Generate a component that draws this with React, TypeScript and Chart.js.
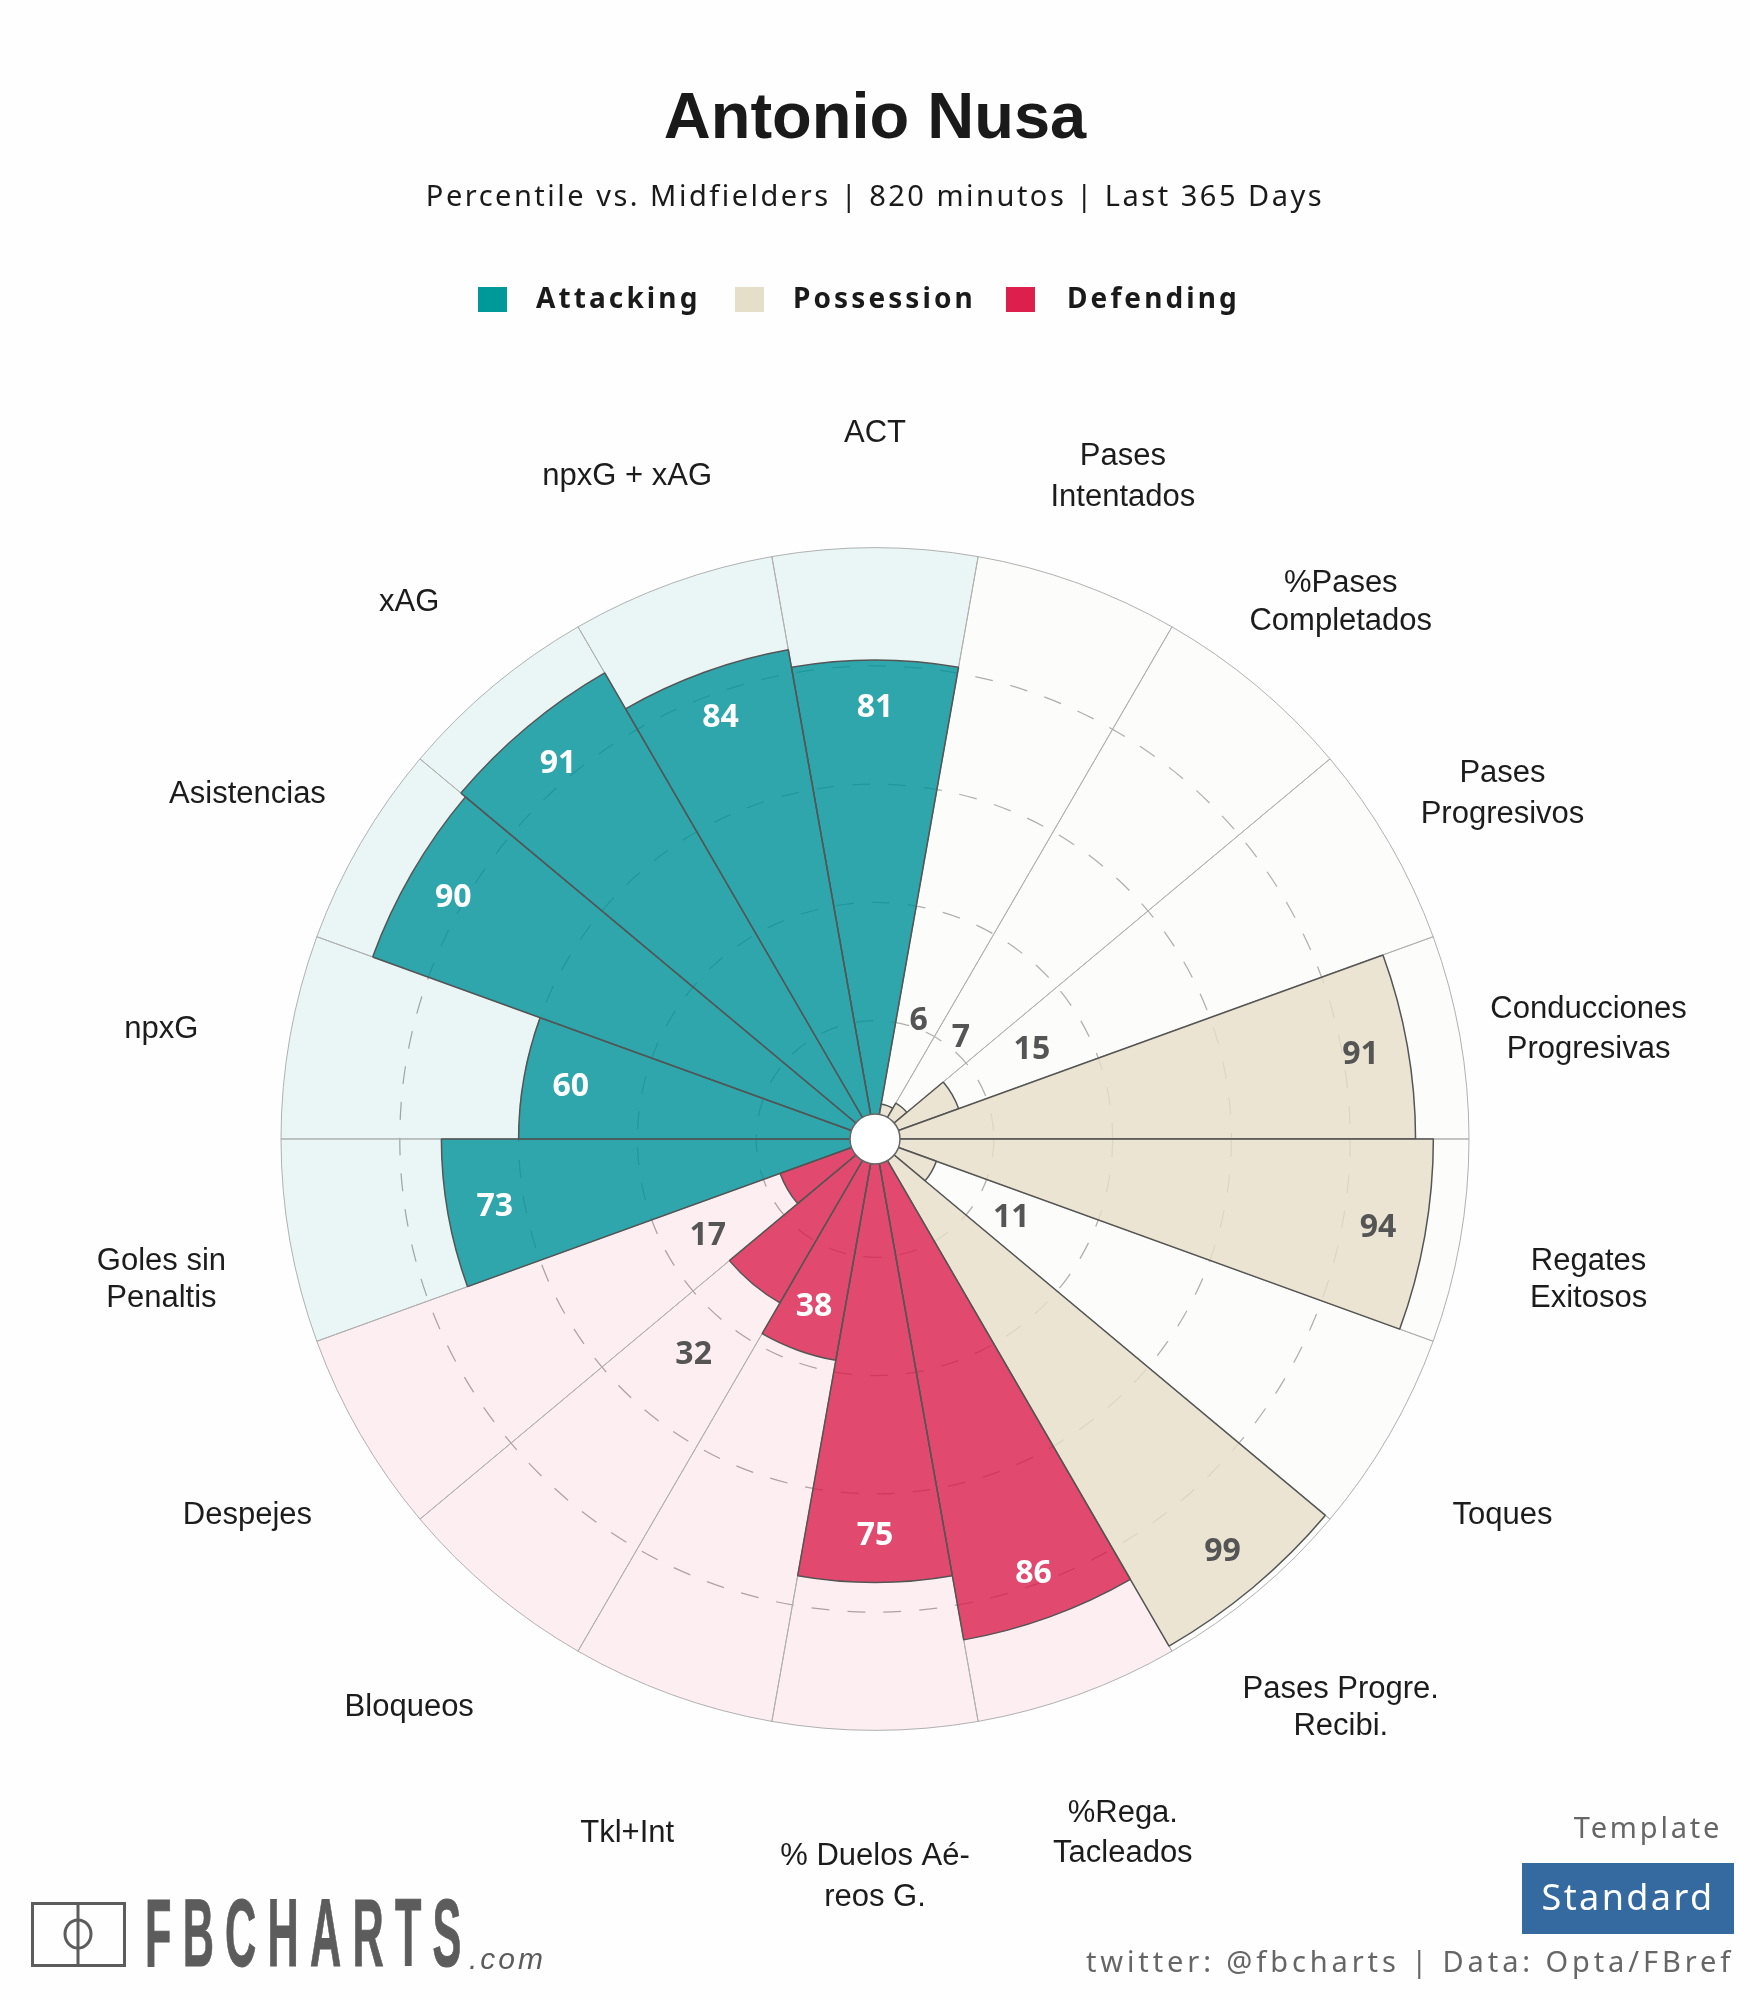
import React, { useEffect, useRef } from "react";
import { Chart, registerables } from "chart.js";

Chart.register(...registerables);

const categories: string[][] = [
  ["ACT"],
  ["Pases", "Intentados"],
  ["%Pases", "Completados"],
  ["Pases", "Progresivos"],
  ["Conducciones", "Progresivas"],
  ["Regates", "Exitosos"],
  ["Toques"],
  ["Pases Progre.", "Recibi."],
  ["%Rega.", "Tacleados"],
  ["% Duelos Aé-", "reos G."],
  ["Tkl+Int"],
  ["Bloqueos"],
  ["Despejes"],
  ["Goles sin", "Penaltis"],
  ["npxG"],
  ["Asistencias"],
  ["xAG"],
  ["npxG + xAG"],
];
const percentiles = [81, 6, 7, 15, 91, 94, 11, 99, 86, 75, 38, 32, 17, 73, 60, 90, 91, 84];
const ceilings = [100, 100, 100, 100, 100, 100, 100, 100, 100, 100, 100, 100, 100, 100, 100, 100, 100, 100];
const groups = ["A", "P", "P", "P", "P", "P", "P", "P", "D", "D", "D", "D", "D", "A", "A", "A", "A", "A"];
const lineGaps = [0, 41, 38, 41, 40, 37, 0, 37, 40, 41, 0, 0, 0, 37, 0, 0, 0, 0];

const barColor: Record<string, string> = {
  A: "rgba(0,146,154,0.8)",
  P: "rgba(231,222,200,0.8)",
  D: "rgba(218,32,76,0.8)",
};
const shadeColor: Record<string, string> = {
  A: "rgba(0,153,153,0.08)",
  P: "rgba(230,225,205,0.08)",
  D: "rgba(240,40,90,0.075)",
};

const legendItems = [
  { label: "Attacking", color: "#009999", swatchX: 478, textX: 536 },
  { label: "Possession", color: "#E5DEC8", swatchX: 735, textX: 793 },
  { label: "Defending", color: "#DC1F4C", swatchX: 1006, textX: 1067 },
];

const uiFont = "'Noto Sans', sans-serif";
const valueFont = "'Open Sans', sans-serif";
const armFont = "'Liberation Sans', Arial, sans-serif";
const verticalSquash = 0.9956;

const overlayPlugin = {
  id: "overlay",
  beforeDraw(chart: any) {
    const ctx = chart.ctx;
    const cy = chart.scales.r.yCenter;
    ctx.save();
    ctx.translate(0, cy);
    ctx.scale(1, verticalSquash);
    ctx.translate(0, -cy);
  },
  afterDatasetsDraw(chart: any) {
    const ctx = chart.ctx;
    const scale = chart.scales.r;
    const meta = chart.getDatasetMeta(0);
    const cx = scale.xCenter;
    const cy = scale.yCenter;

    ctx.save();
    ctx.beginPath();
    ctx.arc(cx, cy, 25, 0, Math.PI * 2);
    ctx.fillStyle = "#ffffff";
    ctx.fill();
    ctx.lineWidth = 1.5;
    ctx.strokeStyle = "#666666";
    ctx.stroke();

    ctx.textAlign = "center";
    ctx.textBaseline = "middle";
    percentiles.forEach((v, i) => {
      const el = meta.data[i];
      const mid = (el.startAngle + el.endAngle) / 2;
      const outside = v < 35;
      const r = scale.getDistanceFromCenterForValue(outside ? v + 15.5 : v - 8);
      ctx.font = `700 32px ${valueFont}`;
      ctx.fillStyle = outside || groups[i] === "P" ? "#555555" : "#ffffff";
      ctx.fillText(String(v), cx + r * Math.cos(mid), cy + 1 + r * Math.sin(mid));
    });
    ctx.restore();
  },
  afterDraw(chart: any) {
    const ctx = chart.ctx;
    ctx.restore();

    const scale = chart.scales.r;
    const meta = chart.getDatasetMeta(0);
    const cx = scale.xCenter;
    const cy = scale.yCenter;
    const labelR = scale.getDistanceFromCenterForValue(121.5);

    ctx.save();
    ctx.textAlign = "center";
    ctx.textBaseline = "middle";
    ctx.font = `31px ${armFont}`;
    ctx.fillStyle = "#1c1c1c";
    categories.forEach((lines, i) => {
      const el = meta.data[i];
      const mid = (el.startAngle + el.endAngle) / 2;
      const x = cx + labelR * 1.004 * Math.cos(mid);
      const y = cy + 16 + labelR * Math.sin(mid);
      lines.forEach((line, k) => {
        ctx.fillText(line, x, y + (k - (lines.length - 1) / 2) * lineGaps[i]);
      });
    });
    ctx.restore();
  },
};

function Label(props: { x: number; y: number; size: number; color?: string; weight?: number; spacing?: number; font?: string; align?: string; children: React.ReactNode }) {
  const { x, y, size, color = "#1a1a1a", weight = 400, spacing = 0, font = uiFont, align = "center", children } = props;
  const tx = align === "center" ? "-50%" : "0";
  return (
    <div
      style={{
        position: "absolute",
        left: x,
        top: y,
        transform: `translate(${tx},-50%)`,
        fontFamily: font,
        fontSize: size,
        fontWeight: weight,
        color,
        letterSpacing: spacing,
        whiteSpace: "nowrap",
        lineHeight: 1,
      }}
    >
      {children}
    </div>
  );
}

export default function App() {
  const ref = useRef<HTMLCanvasElement | null>(null);

  useEffect(() => {
    if (!ref.current) return;
    const chart = new Chart(ref.current, {
      type: "polarArea",
      data: {
        labels: categories.map((c) => c.join(" ")),
        datasets: [
          {
            label: "Percentile",
            data: percentiles,
            backgroundColor: groups.map((g) => barColor[g]),
            borderColor: "#555555",
            borderWidth: 1.5,
            clip: false,
          },
          {
            label: "Ceiling",
            data: ceilings,
            backgroundColor: groups.map((g) => shadeColor[g]),
            borderColor: "#b0b0b0",
            borderWidth: 1,
            clip: false,
          },
        ],
      },
      options: {
        responsive: false,
        animation: false,
        layout: { padding: { left: 281, right: 281, top: 545, bottom: 267 } },
        plugins: { legend: { display: false }, tooltip: { enabled: false }, title: { display: false } },
        scales: {
          r: {
            min: 0,
            max: 100,
            startAngle: -10,
            ticks: { display: false, stepSize: 20 },
            pointLabels: { display: false },
            angleLines: { display: false },
            border: { dash: [18, 18] },
            grid: {
              circular: true,
              lineWidth: 1.25,
              color: (c: any) => (c.tick && c.tick.value >= 100 ? "rgba(0,0,0,0)" : "#aaaaaa"),
            },
          },
        },
      },
      plugins: [overlayPlugin],
    } as any);
    return () => chart.destroy();
  }, []);

  return (
    <div style={{ position: "relative", width: 1750, height: 2000, overflow: "hidden", background: "#fefefe" }}>
      <style>{"body{margin:0;background:#fefefe}"}</style>
      <canvas ref={ref} width={1750} height={2000} style={{ position: "absolute", left: 0, top: 0, display: "block" }} />

      <Label x={875} y={115} size={65} weight={700} font={armFont}>Antonio Nusa</Label>
      <Label x={875} y={194} size={29} spacing={2.5}>Percentile vs. Midfielders | 820 minutos | Last 365 Days</Label>

      {legendItems.map((item) => (
        <React.Fragment key={item.label}>
          <div style={{ position: "absolute", left: item.swatchX, top: 287, width: 29, height: 25, background: item.color }} />
          <Label x={item.textX} y={297} size={28} weight={700} spacing={3.1} align="left">{item.label}</Label>
        </React.Fragment>
      ))}

      <svg width={130} height={80} style={{ position: "absolute", left: 20, top: 1895 }}>
        <rect x={12.5} y={8.5} width={92} height={62} fill="none" stroke="#5c5c5c" strokeWidth={3} />
        <line x1={58} y1={8} x2={58} y2={71} stroke="#5c5c5c" strokeWidth={3} />
        <ellipse cx={58} cy={39} rx={13} ry={14} fill="none" stroke="#5c5c5c" strokeWidth={3} />
      </svg>
      <div
        style={{
          position: "absolute",
          left: 145,
          top: 1933,
          transform: "translate(0,-50%) scaleX(0.45)",
          transformOrigin: "0 50%",
          fontFamily: armFont,
          fontWeight: 700,
          fontSize: 96,
          letterSpacing: 25,
          color: "#5c5c5c",
          whiteSpace: "nowrap",
          lineHeight: 1,
          WebkitTextStroke: "1px #5c5c5c",
        }}
      >
        FBCHARTS
      </div>
      <Label x={469} y={1959} size={30} color="#5c5c5c" spacing={3} align="left" font={armFont}>
        <i>.com</i>
      </Label>

      <Label x={1648} y={1826} size={29} color="#666666" spacing={2.8}>Template</Label>
      <div style={{ position: "absolute", left: 1522, top: 1863, width: 212, height: 71, background: "#356AA0" }} />
      <Label x={1628} y={1897} size={36} color="#ffffff" spacing={2.4}>Standard</Label>
      <Label x={1410} y={1960} size={29} color="#666666" spacing={3.9}>twitter: @fbcharts | Data: Opta/FBref</Label>
    </div>
  );
}
